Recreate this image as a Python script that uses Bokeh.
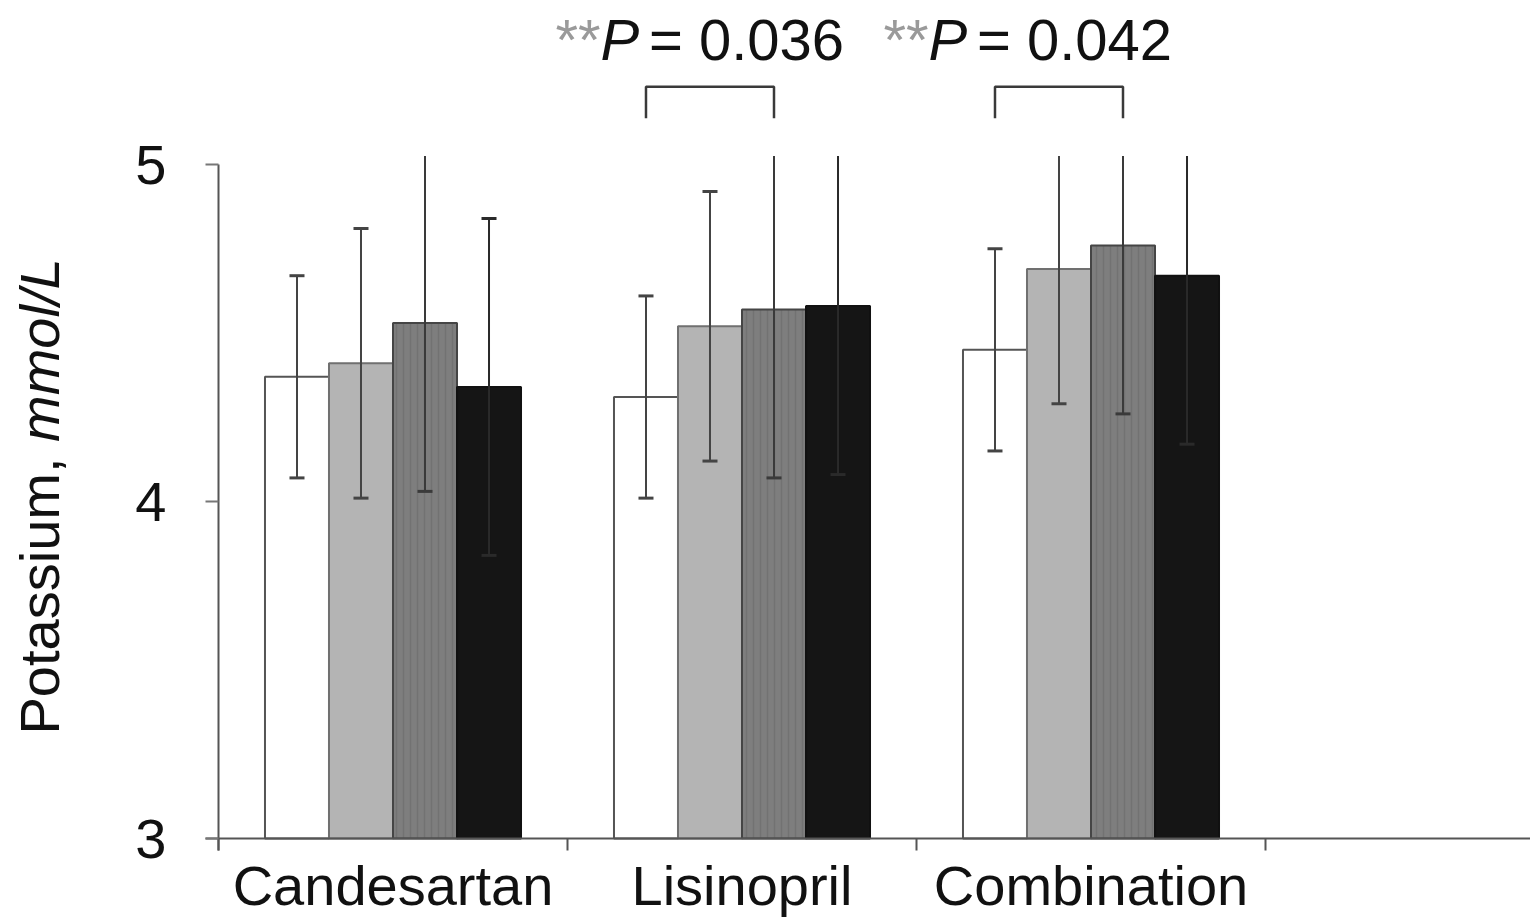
from math import pi
from bokeh.plotting import figure
from bokeh.models import FixedTicker, Range1d
from bokeh.core.properties import value
from bokeh.embed import file_html
from bokeh.resources import INLINE

# ---------------- data ----------------
CATEGORIES = ["Candesartan", "Lisinopril", "Combination"]
# four bars per treatment group (white, light grey, dark grey, black)
S1_MEAN = [4.37, 4.31, 4.45]
S1_SD = [0.30, 0.30, 0.30]
S2_MEAN = [4.41, 4.52, 4.69]
S2_SD = [0.40, 0.40, 0.40]
S3_MEAN = [4.53, 4.57, 4.76]
S3_SD = [0.50, 0.50, 0.50]
S4_MEAN = [4.34, 4.58, 4.67]
S4_SD = [0.50, 0.50, 0.50]
Y_TICKS = [3, 4, 5]
P_TEXTS = ["= 0.036", "= 0.042"]
P_GROUPS = [1, 2]          # Lisinopril, Combination
P_PAIR = (0, 2)            # white bar vs dark grey bar

# ---------------- styling / layout ----------------
FONT = "Liberation Sans"
FS = "56px"
W, H = 1530, 921
AX_X, AX_Y = 218, 838       # pixel position of the axes corner
PX_X, PX_Y = 349.0, 337.0   # pixels per data unit
Y0 = 3.0
X_LO, X_HI = -AX_X / PX_X, (W - AX_X) / PX_X
Y_LO, Y_HI = Y0 - (H - AX_Y) / PX_Y, Y0 + AX_Y / PX_Y
BAR_W = 0.1834
CLIP = 5.025               # whiskers are cut just above the top of the axis
CAP = 0.043
TXT_SHIFT = 23             # px: baseline correction for text glyphs

FILLS = ["#ffffff", "#b4b4b4", "#7e7e7e", "#151515"]
LINES = ["#555555", "#707070", "#454545", "#111111"]
ERRC = ["#444444", "#444444", "#3a3a3a", "#2a2a2a"]

means = [S1_MEAN, S2_MEAN, S3_MEAN, S4_MEAN]
sds = [S1_SD, S2_SD, S3_SD, S4_SD]

p = figure(width=W, height=H, x_range=Range1d(X_LO, X_HI), y_range=Range1d(Y_LO, Y_HI),
           output_backend="svg", toolbar_location=None,
           min_border_left=0, min_border_right=0, min_border_top=0, min_border_bottom=0)
p.outline_line_color = None
p.xgrid.visible = False
p.ygrid.visible = False
p.background_fill_color = "white"


def bar_x(k):
    return [i + 0.5 + (k - 1.5) * BAR_W for i in range(len(CATEGORIES))]


for k in range(4):
    kw = {}
    if k == 2:
        kw = dict(hatch_pattern="vertical_line", hatch_color="#6a6a6a", hatch_scale=7,
                  hatch_weight=1.5, hatch_alpha=0.6)
    p.vbar(x=bar_x(k), top=means[k], bottom=Y0, width=BAR_W, fill_color=FILLS[k],
           line_color=LINES[k], line_width=2, **kw)

for k in range(4):
    xs = bar_x(k)
    lo = [m - s for m, s in zip(means[k], sds[k])]
    hi = [m + s for m, s in zip(means[k], sds[k])]
    hi_draw = [min(h, CLIP) for h in hi]
    p.segment(x0=xs, y0=lo, x1=xs, y1=hi_draw, line_color=ERRC[k], line_width=2)
    p.segment(x0=[x - CAP / 2 for x in xs], y0=lo, x1=[x + CAP / 2 for x in xs], y1=lo,
              line_color=ERRC[k], line_width=3)
    cx = [x for x, h in zip(xs, hi) if h <= CLIP]
    cy = [h for h in hi if h <= CLIP]
    p.segment(x0=[x - CAP / 2 for x in cx], y0=cy, x1=[x + CAP / 2 for x in cx], y1=cy,
              line_color=ERRC[k], line_width=3)

# significance brackets
BR_TOP, BR_LEG = 5.231, 5.137
bx, by = [], []
for g in P_GROUPS:
    xl = bar_x(P_PAIR[0])[g]
    xr = bar_x(P_PAIR[1])[g]
    bx.append([xl, xl, xr, xr])
    by.append([BR_LEG, BR_TOP, BR_TOP, BR_LEG])
p.multi_line(xs=bx, ys=by, line_color="#3a3a3a", line_width=2.5)

# P value annotations: "**" (grey) + italic "P" + "= 0.0xx"
PFS = "58px"
TXT_Y = Y0 + (AX_Y - 62 + TXT_SHIFT) / PX_Y
starts = [(555 - AX_X) / PX_X, (883 - AX_X) / PX_X]
p.text(x=starts, y=[TXT_Y] * 2, text=["**"] * 2, text_font=value(FONT), text_font_size=PFS,
       text_color="#9a9a9a", text_baseline="alphabetic", text_align="left")
p.text(x=[s + 45.0 / PX_X for s in starts], y=[TXT_Y] * 2, text=["P"] * 2, text_font=value(FONT),
       text_font_size=PFS, text_font_style="italic", text_color="#111111",
       text_baseline="alphabetic", text_align="left")
p.text(x=[s + 93.5 / PX_X for s in starts], y=[TXT_Y] * 2, text=P_TEXTS, text_font=value(FONT),
       text_font_size=PFS, text_color="#111111", text_baseline="alphabetic", text_align="left")

# y axis title (roman "Potassium," + italic "mmol/L"), rotated
YL_X = (62 - TXT_SHIFT - AX_X) / PX_X
YL_Y = Y0 + (AX_Y - 734) / PX_Y
p.text(x=[YL_X], y=[YL_Y], text=["Potassium,"], angle=pi / 2, text_align="left",
       text_baseline="alphabetic", text_font=value(FONT), text_font_size=FS, text_color="#111111")
p.text(x=[YL_X], y=[YL_Y + 292.5 / PX_Y], text=["mmol/L"], angle=pi / 2, text_align="left",
       text_baseline="alphabetic", text_font=value(FONT), text_font_size=FS,
       text_font_style="italic", text_color="#111111")

# axes, pinned at x = 0 and y = 3 inside the full-canvas frame
ya = p.yaxis[0]
ya.fixed_location = 0
ya.ticker = FixedTicker(ticks=Y_TICKS)
ya.bounds = (Y0 - 12 / PX_Y, 5)
ya.major_tick_out = 13
ya.major_tick_in = 0
ya.minor_tick_out = 0
ya.minor_tick_in = 0
ya.axis_line_width = 2
ya.axis_line_color = "#555555"
ya.major_tick_line_color = "#777777"
ya.major_tick_line_width = 2
ya.major_label_text_font = FONT
ya.major_label_text_font_size = FS
ya.major_label_text_color = "#111111"
ya.major_label_standoff = 39

xa = p.xaxis[0]
xa.fixed_location = Y0
xa.ticker = FixedTicker(ticks=[i + 0.5 for i in range(len(CATEGORIES))],
                        minor_ticks=list(range(len(CATEGORIES) + 1)))
xa.major_label_overrides = {i + 0.5: c for i, c in enumerate(CATEGORIES)}
xa.bounds = (-13 / PX_X, X_HI)
xa.axis_line_width = 2
xa.axis_line_color = "#555555"
xa.major_tick_line_color = None
xa.major_tick_out = 12
xa.major_tick_in = 0
xa.minor_tick_out = 12
xa.minor_tick_in = 0
xa.minor_tick_line_color = "#555555"
xa.minor_tick_line_width = 2
xa.major_label_text_font = FONT
xa.major_label_text_font_size = FS
xa.major_label_text_color = "#111111"
xa.major_label_standoff = 3

open("out.html", "w").write(file_html(p, INLINE))
